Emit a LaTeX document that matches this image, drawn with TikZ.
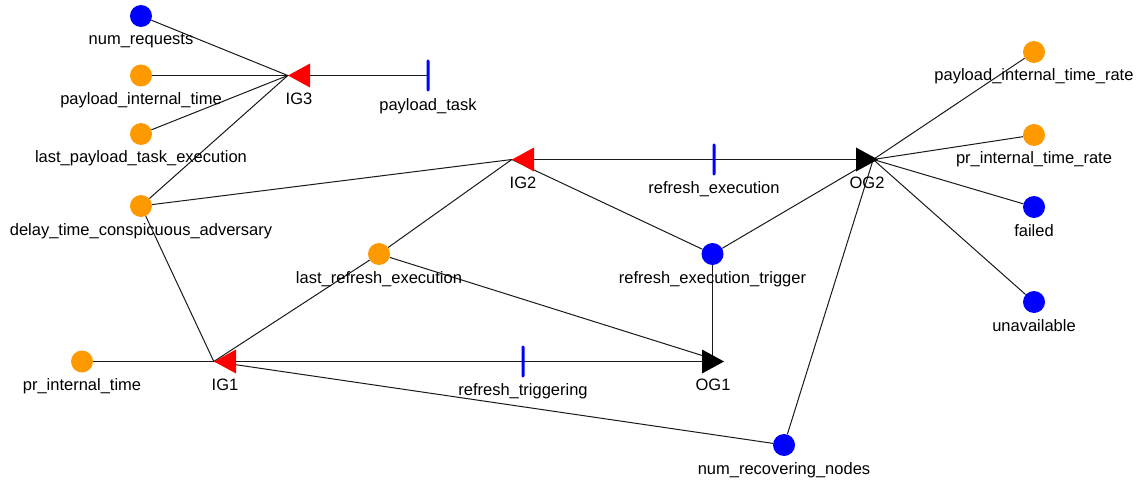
\documentclass[tikz,border=0pt]{standalone}
\usepackage{fontspec}
\setmainfont{Liberation Sans}
\usetikzlibrary{backgrounds}
\definecolor{varorange}{RGB}{255,153,0}
\definecolor{varblue}{RGB}{0,0,255}
\definecolor{gatered}{RGB}{255,0,0}
\begin{document}
\begin{tikzpicture}[x=1pt,y=-1pt,
  var/.style={circle, inner sep=0pt, minimum size=22pt},
  invar/.style={var, fill=varorange},
  statevar/.style={var, fill=varblue},
  transition/.style={rectangle, inner sep=0pt, minimum width=3pt, minimum height=32pt, fill=varblue, rounded corners=1.4pt},
  gate/.style={rectangle, inner sep=0pt, minimum width=22pt, minimum height=24pt},
  ingate/.style={gate, path picture={\fill[gatered] (path picture bounding box.west) -- (path picture bounding box.north east) -- (path picture bounding box.south east) -- cycle;}},
  outgate/.style={gate, path picture={\fill[black] (path picture bounding box.east) -- (path picture bounding box.north west) -- (path picture bounding box.south west) -- cycle;}},
  wire/.style={line width=1pt, black!90},
  lbl/.style={font=\fontsize{16.5}{19}\selectfont, anchor=base, inner sep=0pt},
]
\useasboundingbox (0,0) rectangle (1143,484);

% variables
\node[statevar] (num_requests) at (141,16) {};
\node[invar] (payload_internal_time) at (141,75.5) {};
\node[invar] (last_payload_task_execution) at (141,134) {};
\node[invar] (delay_time_conspicuous_adversary) at (141,206) {};
\node[invar] (payload_internal_time_rate) at (1034,52) {};
\node[invar] (pr_internal_time_rate) at (1034,135) {};
\node[statevar] (failed) at (1034,207) {};
\node[statevar] (unavailable) at (1034,302) {};
\node[invar] (last_refresh_execution) at (379,254) {};
\node[statevar] (refresh_execution_trigger) at (712.5,254) {};
\node[invar] (pr_internal_time) at (82,361.5) {};
\node[statevar] (num_recovering_nodes) at (784,445) {};

% gates
\node[ingate] (IG3) at (299,75.5) {};
\node[ingate] (IG2) at (523,159.5) {};
\node[ingate] (IG1) at (225,361.5) {};
\node[outgate] (OG2) at (867,159.5) {};
\node[outgate] (OG1) at (713,361.5) {};

% transitions
\node[transition] (payload_task) at (428,75.5) {};
\node[transition] (refresh_execution) at (714,159.5) {};
\node[transition] (refresh_triggering) at (523,361.5) {};

% labels
\node[lbl] (num_requests-l) at ([yshift=-29pt]num_requests.center) {num\_requests};
\node[lbl] (payload_internal_time-l) at ([yshift=-29pt]payload_internal_time.center) {payload\_internal\_time};
\node[lbl] (last_payload_task_execution-l) at ([yshift=-29pt]last_payload_task_execution.center) {last\_payload\_task\_execution};
\node[lbl] (delay_time_conspicuous_adversary-l) at ([yshift=-29pt]delay_time_conspicuous_adversary.center) {delay\_time\_conspicuous\_adversary};
\node[lbl] (payload_internal_time_rate-l) at ([yshift=-29pt]payload_internal_time_rate.center) {payload\_internal\_time\_rate};
\node[lbl] (pr_internal_time_rate-l) at ([yshift=-29pt]pr_internal_time_rate.center) {pr\_internal\_time\_rate};
\node[lbl] (failed-l) at ([yshift=-29pt]failed.center) {failed};
\node[lbl] (unavailable-l) at ([yshift=-29pt]unavailable.center) {unavailable};
\node[lbl] (last_refresh_execution-l) at ([yshift=-29pt]last_refresh_execution.center) {last\_refresh\_execution};
\node[lbl] (refresh_execution_trigger-l) at ([yshift=-29pt]refresh_execution_trigger.center) {refresh\_execution\_trigger};
\node[lbl] (pr_internal_time-l) at ([yshift=-29pt]pr_internal_time.center) {pr\_internal\_time};
\node[lbl] (num_recovering_nodes-l) at ([yshift=-29pt]num_recovering_nodes.center) {num\_recovering\_nodes};
\node[lbl] (IG3-l) at ([yshift=-29pt]IG3.center) {IG3};
\node[lbl] (IG2-l) at ([yshift=-29pt]IG2.center) {IG2};
\node[lbl] (IG1-l) at ([yshift=-29pt]IG1.center) {IG1};
\node[lbl] (OG2-l) at ([yshift=-29pt]OG2.center) {OG2};
\node[lbl] (OG1-l) at ([yshift=-29pt]OG1.center) {OG1};
\node[lbl] (payload_task-l) at ([yshift=-35pt]payload_task.center) {payload\_task};
\node[lbl] (refresh_execution-l) at ([yshift=-34pt]refresh_execution.center) {refresh\_execution};
\node[lbl] (refresh_triggering-l) at ([yshift=-34pt]refresh_triggering.center) {refresh\_triggering};

% connection points at the gate tips
\coordinate (OG2tip) at ([xshift=-5pt]OG2.east);
\coordinate (OG1tip) at ([xshift=-3pt]OG1.east);

% arcs
\begin{scope}[on background layer]
\draw[wire] (num_requests) -- (IG3.west);
\draw[wire] (payload_internal_time) -- (IG3.west);
\draw[wire] (last_payload_task_execution) -- (IG3.west);
\draw[wire] (delay_time_conspicuous_adversary) -- (IG3.west);
\draw[wire] (IG3.west) -- (payload_task.center);
\draw[wire] (delay_time_conspicuous_adversary) -- (IG2.west);
\draw[wire] (delay_time_conspicuous_adversary) -- (IG1.west);
\draw[wire] (IG2.west) -- (refresh_execution.center) -- (OG2tip);
\draw[wire] (IG2.west) -- (refresh_execution_trigger);
\draw[wire] (IG2.west) -- (last_refresh_execution);
\draw[wire] (last_refresh_execution) -- (IG1.west);
\draw[wire] (last_refresh_execution) -- (OG1tip);
\draw[wire] (refresh_execution_trigger) -- (OG2tip);
\draw[wire] (refresh_execution_trigger) -- (refresh_execution_trigger |- OG1.center);
\draw[wire] (OG2tip) -- (payload_internal_time_rate);
\draw[wire] (OG2tip) -- (pr_internal_time_rate);
\draw[wire] (OG2tip) -- (failed);
\draw[wire] (OG2tip) -- (unavailable);
\draw[wire] (OG2tip) -- (num_recovering_nodes);
\draw[wire] (pr_internal_time) -- (IG1.west);
\draw[wire] (IG1.west) -- (refresh_triggering.center) -- (OG1tip);
\draw[wire] (IG1.west) -- (num_recovering_nodes);
\end{scope}
\end{tikzpicture}
\end{document}
